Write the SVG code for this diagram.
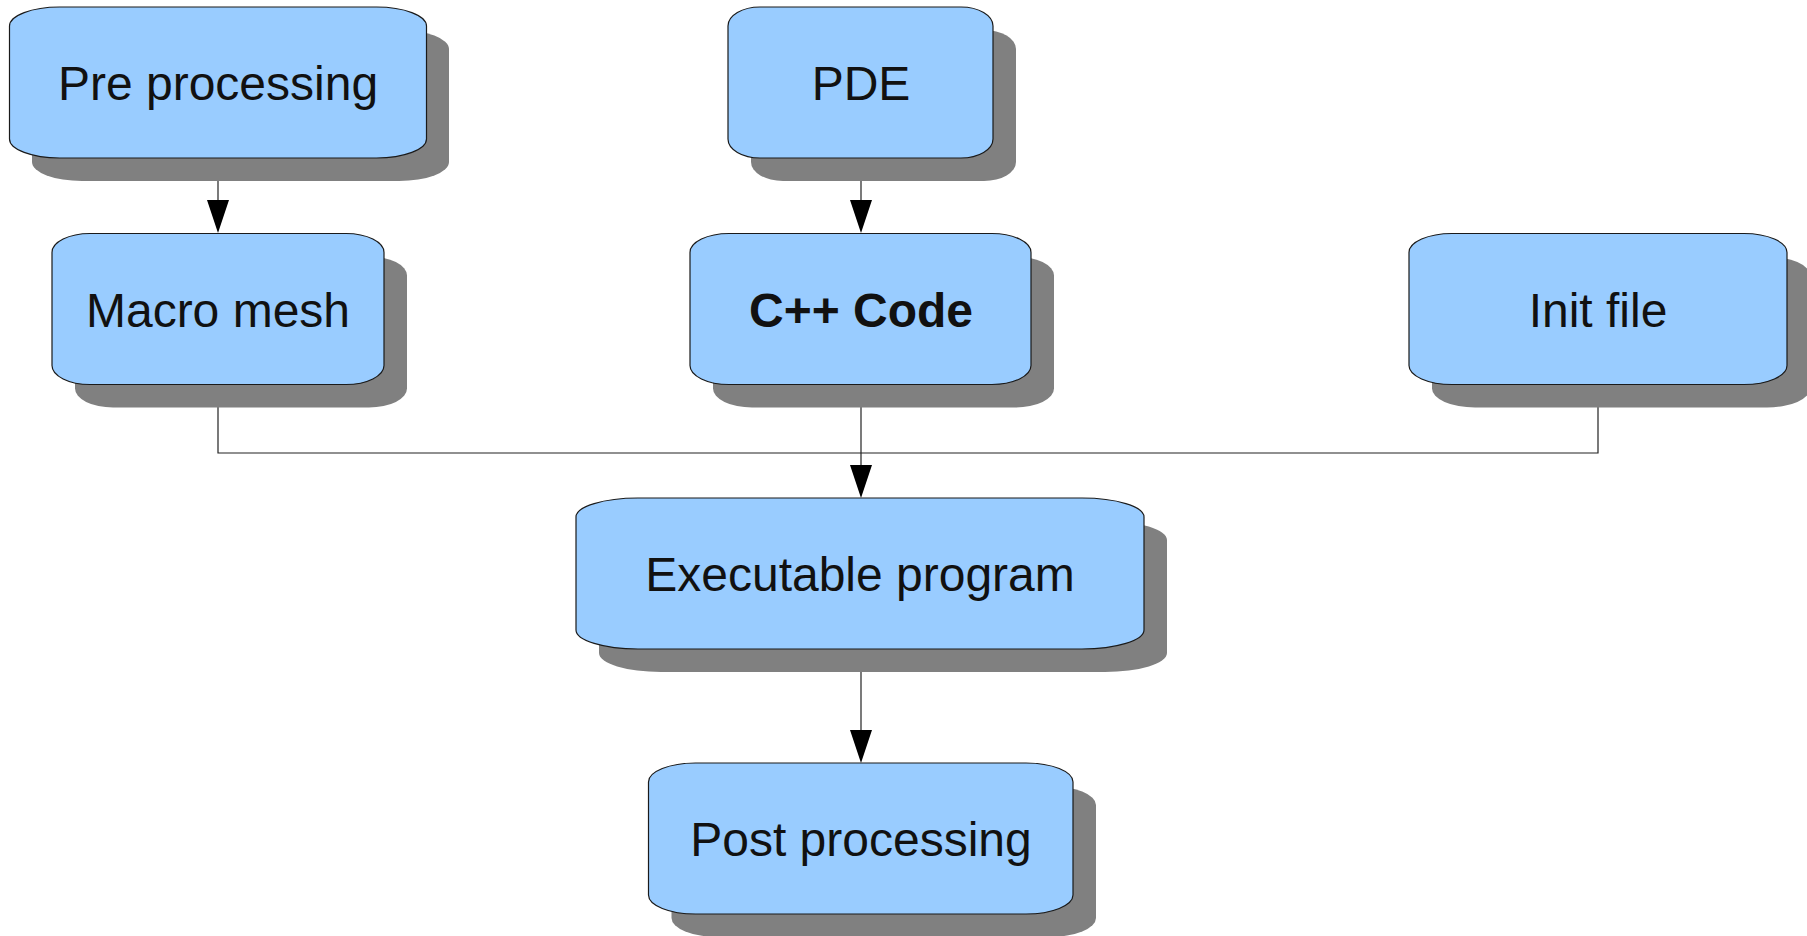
<svg xmlns="http://www.w3.org/2000/svg" width="1807" height="936" viewBox="0 0 1807 936">
<style>
.shadow{fill:#808080;stroke:none}
.box{fill:#99ccff;stroke:#1a1a1a;stroke-width:1.2}
.lbl{font-family:"Liberation Sans",Arial,sans-serif;font-size:48px;fill:#111;text-anchor:middle}
.bold{font-weight:bold}
.wire{fill:none;stroke:#222;stroke-width:1.2}
.head{fill:#000;stroke:none}
</style>
<rect width="1807" height="936" fill="#fff"/>
<g id="connectors">
<path class="wire" d="M218 158 V205"/>
<polygon class="head" points="207,200 229,200 218,233"/>
<path class="wire" d="M861 158 V205"/>
<polygon class="head" points="850,200 872,200 861,233"/>
<path class="wire" d="M218 385 V453 H1598 V385"/>
<path class="wire" d="M861 385 V470"/>
<polygon class="head" points="850,465 872,465 861,498"/>
<path class="wire" d="M861 649 V735"/>
<polygon class="head" points="850,730 872,730 861,763"/>
</g>
<g id="pre">
<rect class="shadow" x="32" y="30" width="417" height="151" rx="50" ry="19"/>
<rect class="box" x="9.5" y="7" width="417" height="151" rx="50" ry="19"/>
<text class="lbl" x="218" y="100">Pre processing</text>
</g>
<g id="pde">
<rect class="shadow" x="751" y="30" width="265" height="151" rx="32" ry="19"/>
<rect class="box" x="728" y="7" width="265" height="151" rx="32" ry="19"/>
<text class="lbl" x="861" y="100">PDE</text>
</g>
<g id="macro">
<rect class="shadow" x="75" y="256.5" width="332" height="151" rx="38" ry="19"/>
<rect class="box" x="52" y="233.5" width="332" height="151" rx="38" ry="19"/>
<text class="lbl" x="218" y="326.5">Macro mesh</text>
</g>
<g id="cpp">
<rect class="shadow" x="713" y="256.5" width="341" height="151" rx="39" ry="19"/>
<rect class="box" x="690" y="233.5" width="341" height="151" rx="39" ry="19"/>
<text class="lbl bold" x="861" y="326.5">C++ Code</text>
</g>
<g id="init">
<rect class="shadow" x="1432" y="256.5" width="378" height="151" rx="43" ry="19"/>
<rect class="box" x="1409" y="233.5" width="378" height="151" rx="43" ry="19"/>
<text class="lbl" x="1598" y="326.5">Init file</text>
</g>
<g id="exec">
<rect class="shadow" x="599" y="521" width="568" height="151" rx="62" ry="19"/>
<rect class="box" x="576" y="498" width="568" height="151" rx="62" ry="19"/>
<text class="lbl" x="860" y="591">Executable program</text>
</g>
<g id="post">
<rect class="shadow" x="671.5" y="786" width="424.5" height="151" rx="47" ry="19"/>
<rect class="box" x="648.5" y="763" width="424.5" height="151" rx="47" ry="19"/>
<text class="lbl" x="861" y="856">Post processing</text>
</g>
</svg>
